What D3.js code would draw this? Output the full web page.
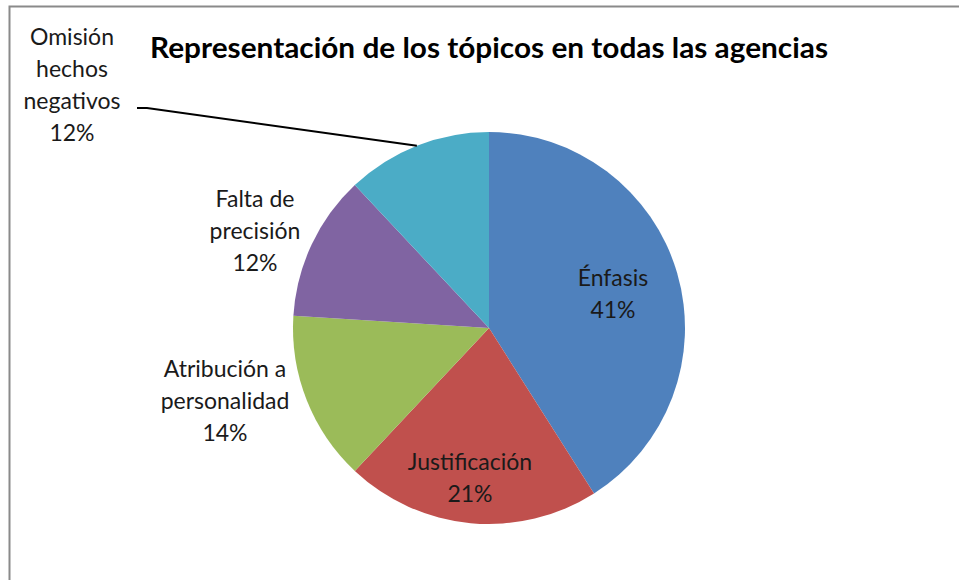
<!DOCTYPE html>
<html><head><meta charset="utf-8">
<script src="https://cdn.jsdelivr.net/npm/d3@7"></script>
<style>body{margin:0;background:#fff}svg{display:block}</style>
</head><body>
<script>
const categories = ["Énfasis", "Justificación", "Atribución a personalidad", "Falta de precisión", "Omisión hechos negativos"];
const labelLines = [["Énfasis"], ["Justificación"], ["Atribución a", "personalidad"], ["Falta de", "precisión"], ["Omisión", "hechos", "negativos"]];
const values = [41, 21, 14, 12, 12];
const colors = ["#4F81BD", "#C0504D", "#9BBB59", "#8064A2", "#4BACC6"];
const title = "Representación de los tópicos en todas las agencias";

const W = 959, H = 580;
const svg = d3.select("body").append("svg").attr("width", W).attr("height", H);
svg.append("rect").attr("width", W).attr("height", H).attr("fill", "#fff");
// frame
svg.append("path").attr("d", `M9.5,${H+5} V6.5 H${W+5}`).attr("fill", "none").attr("stroke", "#8a8a8a").attr("stroke-width", 2);

svg.append("text").attr("x", 489).attr("y", 58).attr("text-anchor", "middle")
  .attr("font-family", "Lato, 'Open Sans', sans-serif").attr("font-weight", "bold").attr("font-size", 28)
  .attr("textLength", 678).attr("lengthAdjust", "spacingAndGlyphs")
  .attr("fill", "#000").text(title);

const cx = 489, cy = 328, R = 196;
const pie = d3.pie().sort(null).value(d => d)(values);
const arc = d3.arc().innerRadius(0).outerRadius(R);
const g = svg.append("g").attr("transform", `translate(${cx},${cy})`);
g.selectAll("path.slice").data(pie).join("path").attr("class", "slice")
  .attr("d", arc).attr("fill", (d, i) => colors[i]);

const total = d3.sum(values);
const pct = v => Math.round(v / total * 100) + "%";
// label layout (page pixels), chosen to match the reference label placement
const labelAnchor = [[613, 294], [470, 478], [225, 401], [255, 231], [72, 85]];
const polar = (a, r) => [r * Math.sin(a), -r * Math.cos(a)];
const lineH = 32;

pie.forEach((d, i) => {
  const mid = (d.startAngle + d.endAngle) / 2;
  const lines = labelLines[i].concat([pct(values[i])]);
  const px = labelAnchor[i][0] - cx, py = labelAnchor[i][1] - cy;
  if (i === 4) {
    const [ex, ey] = polar(mid, R);
    g.append("path").attr("d", `M${ex},${ey} L${147 - cx},${108 - cy} L${137 - cx},${108 - cy}`)
      .attr("fill", "none").attr("stroke", "#000").attr("stroke-width", 2);
  }
  const t = g.append("text").attr("text-anchor", "middle")
    .attr("font-family", "Lato, 'Open Sans', sans-serif").attr("font-size", 23).attr("fill", "#1a1a1a");
  const n = lines.length;
  lines.forEach((s, k) => {
    t.append("tspan").attr("x", px).attr("y", py + (k - (n - 1) / 2) * lineH).attr("dy", "0.35em").text(s);
  });
});
</script>
</body></html>
